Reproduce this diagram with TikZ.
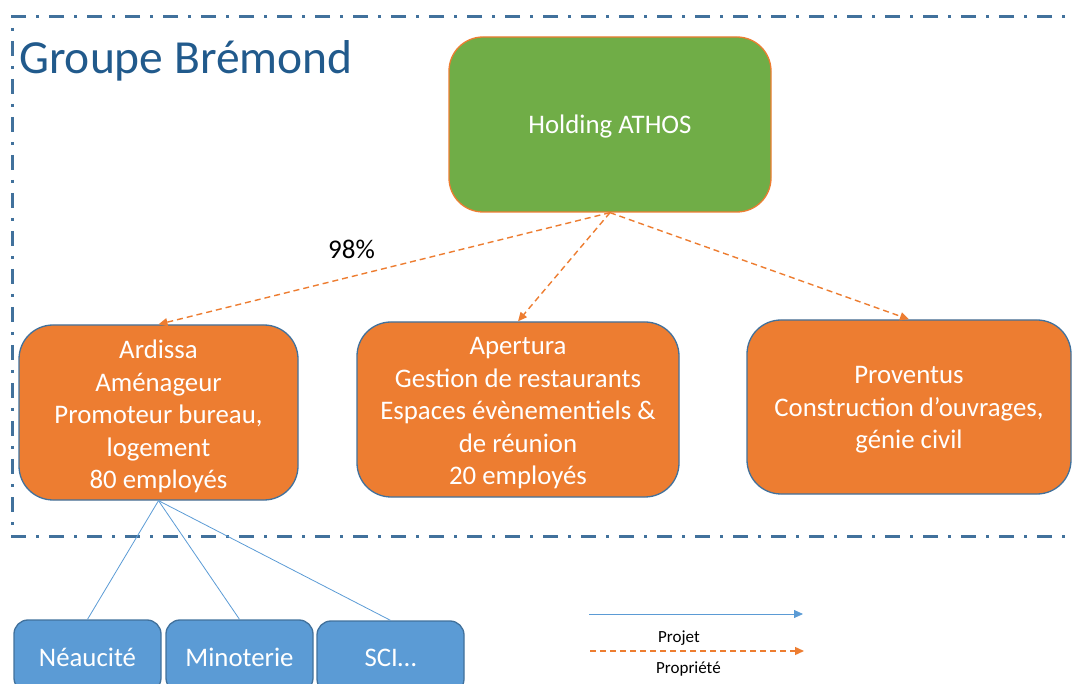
\documentclass[tikz,border=0pt]{standalone}
\usepackage{fontspec}
\setmainfont{Carlito}
\usetikzlibrary{arrows.meta}
\definecolor{orfill}{HTML}{ED7D31}
\definecolor{bborder}{HTML}{41719C}
\definecolor{grfill}{HTML}{70AD47}
\definecolor{titleblue}{HTML}{215A8C}
\definecolor{lblue}{HTML}{5B9BD5}
\tikzset{
  boxbase/.style={draw, line width=1.3pt, rounded corners=34pt, inner sep=0pt},
  orbox/.style={boxbase, fill=orfill, draw=bborder},
  grbox/.style={boxbase, fill=grfill, draw=orfill},
  blbox/.style={boxbase, fill=lblue, draw=bborder, rounded corners=14pt},
  boxtext/.style={inner sep=0pt, align=center, text=white, font=\fontsize{26.8}{32.5}\selectfont},
  own/.style={draw=orfill, line width=1.4pt, dash pattern=on 6pt off 4pt, -{Triangle[length=9pt,width=8pt]}},
  proj/.style={draw=lblue, line width=0.8pt},
  frame/.style={draw=bborder, line width=3pt, dash pattern=on 15pt off 10pt on 3pt off 10pt},
  lbl/.style={inner sep=0pt, anchor=base west}
}
\begin{document}
\begin{tikzpicture}[x=1pt,y=-1pt]
\useasboundingbox (0,0) rectangle (1074,684);
\draw[frame] (1090,17) -- (12,17) -- (12,536) -- (1090,536);
\node[lbl, text=titleblue, font=\fontsize{47.5}{50}\selectfont] (title) at (19,74) {Groupe Brémond};
\node[grbox, minimum width=322pt, minimum height=175pt] (hold) at (610,124.5) {};
\node[orbox, minimum width=279pt, minimum height=175pt] (ard) at (158.5,412.5) {};
\node[orbox, minimum width=322pt, minimum height=175pt] (ape) at (518,409.5) {};
\node[orbox, minimum width=324pt, minimum height=174pt] (pro) at (909,407) {};
\node[blbox, minimum width=147pt, minimum height=72pt] (nea) at (87.5,656) {};
\node[blbox, minimum width=147pt, minimum height=72pt] (min) at (239.5,656) {};
\node[blbox, minimum width=147pt, minimum height=72pt] (sci) at (390.5,657) {};
\node[boxtext] (holdt) at ([yshift=-2pt]hold.center) {Holding ATHOS};
\node[boxtext] (ardt) at ([yshift=-4pt]ard.center) {Ardissa\\Aménageur\\Promoteur bureau,\\logement\\80 employés};
\node[boxtext] (apet) at ([yshift=-4pt]ape.center) {Apertura\\Gestion de restaurants\\Espaces évènementiels \&\\de réunion\\20 employés};
\node[boxtext] (prot) at ([yshift=-3pt]pro.center) {Proventus\\Construction d’ouvrages,\\génie civil};
\node[boxtext] (neat) at ([yshift=-1pt]nea.center) {Néaucité};
\node[boxtext] (mint) at ([yshift=-1pt]min.center) {Minoterie};
\node[boxtext] (scit) at ([yshift=-1pt]sci.center) {SCI…};
\draw[own] (hold.south) -- (ard.north);
\draw[own] (hold.south) -- (ape.north);
\draw[own] (hold.south) -- (pro.north);
\node[lbl, font=\fontsize{27}{30}\selectfont] (pct) at (328,259) {98\%};
\draw[proj] (ard.south) -- (nea.north);
\draw[proj] (ard.south) -- (min.north);
\draw[proj] (ard.south) -- (sci.north);
\coordinate (l1a) at (589,614);
\coordinate (l1b) at (803,614);
\coordinate (l2a) at (590,651);
\coordinate (l2b) at (804,651);
\draw[proj, -{Triangle[length=9pt,width=8pt]}] (l1a) -- (l1b);
\draw[own] (l2a) -- (l2b);
\node[lbl, font=\fontsize{17}{20}\selectfont] (lp) at (658,642) {Projet};
\node[lbl, font=\fontsize{17}{20}\selectfont] (lq) at (656,673) {Propriété};
\end{tikzpicture}
\end{document}
